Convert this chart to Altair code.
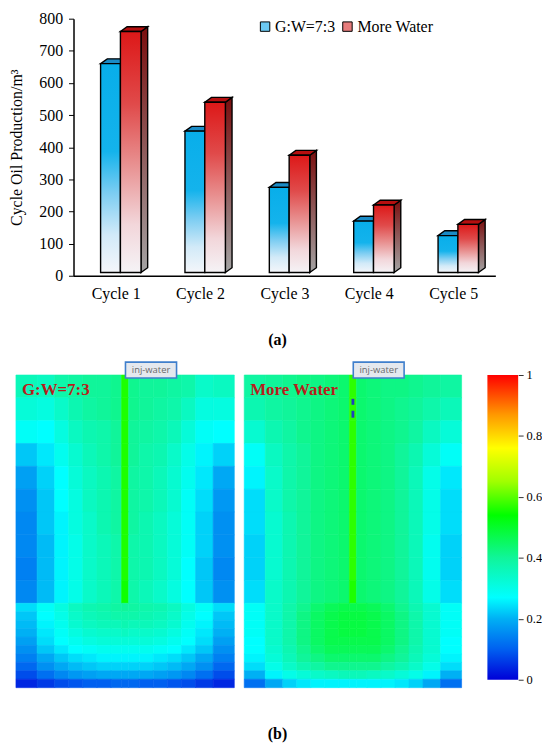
import altair as alt
import pandas as pd

# ---------------- data (a): cycle oil production ----------------
CYCLES = ["Cycle 1", "Cycle 2", "Cycle 3", "Cycle 4", "Cycle 5"]
SERIES = ["G:W=7:3", "More Water"]
GW73 = [660, 450, 275, 170, 125]
MORE_WATER = [760, 540, 375, 220, 160]
Y_TICKS = [0, 100, 200, 300, 400, 500, 600, 700, 800]

# ---------------- data (b): saturation fields ----------------
COL_WIDTHS = [3, 2.5, 2, 2, 2, 2, 1.5, 1, 1.5, 2, 2, 2, 2, 2.5, 3]
ROW_HEIGHTS = [2.3, 2.3, 2.3, 2.3, 2.3, 2.3, 2.3, 2.3, 2.3, 2.3,
               0.85, 0.85, 0.85, 0.85, 0.85, 0.85, 0.85, 0.85, 0.85, 0.85]

HEAT_GW73 = [
    [36, 35, 38, 39, 40, 40, 41, 56, 41, 40, 40, 39, 38, 34, 35],
    [32, 31, 34, 37, 39, 40, 41, 56, 41, 40, 39, 38, 35, 31, 31],
    [28, 27, 31, 35, 37, 38, 40, 56, 40, 39, 38, 36, 32, 28, 27],
    [22, 25, 29, 33, 36, 38, 40, 56, 40, 38, 37, 34, 30, 26, 23],
    [18, 23, 27, 32, 35, 37, 39, 56, 39, 38, 36, 33, 29, 25, 19],
    [16, 22, 27, 31, 35, 37, 39, 56, 39, 38, 36, 33, 28, 24, 17],
    [15, 22, 26, 31, 34, 37, 39, 56, 39, 37, 35, 32, 28, 23, 16],
    [15, 21, 26, 30, 34, 36, 38, 56, 38, 37, 35, 32, 28, 23, 16],
    [14, 21, 26, 30, 34, 36, 38, 56, 38, 37, 35, 32, 27, 22, 15],
    [15, 21, 26, 30, 34, 36, 38, 55, 38, 36, 34, 31, 27, 22, 16],
    [24, 28, 31, 35, 37, 38, 39, 40, 39, 38, 37, 35, 31, 28, 24],
    [22, 27, 30, 34, 36, 37, 38, 38, 38, 37, 36, 34, 30, 27, 22],
    [21, 26, 29, 33, 35, 36, 36, 37, 36, 36, 35, 33, 29, 26, 21],
    [20, 25, 28, 31, 33, 34, 34, 35, 34, 34, 33, 31, 28, 25, 20],
    [18, 24, 27, 29, 31, 32, 32, 32, 32, 32, 31, 29, 27, 24, 18],
    [16, 22, 25, 27, 28, 29, 29, 29, 29, 29, 28, 27, 25, 22, 16],
    [14, 19, 22, 24, 25, 26, 26, 26, 26, 26, 25, 24, 22, 19, 14],
    [11, 16, 19, 21, 22, 23, 23, 23, 23, 23, 22, 21, 19, 16, 11],
    [8, 12, 15, 17, 18, 19, 19, 19, 19, 19, 18, 17, 15, 12, 8],
    [4, 6, 8, 9, 10, 10, 11, 11, 11, 10, 10, 9, 8, 6, 4],
]

HEAT_MORE_WATER = [
    [39, 40, 41, 42, 42, 43, 44, 57, 44, 43, 42, 42, 41, 40, 39],
    [37, 39, 40, 41, 42, 43, 44, 57, 44, 43, 42, 41, 40, 38, 36],
    [33, 37, 39, 41, 42, 43, 44, 57, 44, 43, 42, 41, 39, 35, 32],
    [28, 35, 38, 40, 42, 43, 44, 57, 44, 43, 42, 40, 37, 32, 28],
    [26, 34, 38, 40, 42, 43, 44, 57, 44, 43, 42, 40, 36, 30, 25],
    [24, 34, 38, 40, 42, 43, 44, 57, 44, 43, 42, 40, 36, 30, 24],
    [24, 33, 37, 40, 42, 43, 44, 57, 44, 43, 42, 40, 36, 30, 24],
    [23, 33, 37, 40, 42, 43, 44, 57, 44, 43, 42, 40, 36, 29, 23],
    [23, 33, 37, 40, 42, 43, 44, 57, 44, 43, 42, 40, 36, 29, 23],
    [24, 34, 37, 40, 42, 43, 44, 56, 44, 43, 42, 40, 36, 30, 24],
    [28, 34, 38, 41, 44, 46, 47, 47, 47, 46, 44, 41, 37, 33, 28],
    [28, 34, 38, 42, 45, 47, 48, 48, 48, 47, 45, 42, 38, 33, 28],
    [28, 34, 38, 42, 45, 47, 48, 48, 48, 47, 45, 42, 38, 33, 28],
    [28, 34, 38, 42, 45, 47, 48, 48, 48, 47, 45, 42, 38, 33, 28],
    [27, 34, 38, 42, 45, 47, 47, 47, 47, 47, 45, 42, 38, 33, 27],
    [27, 33, 37, 41, 44, 46, 46, 46, 46, 46, 44, 41, 37, 33, 27],
    [26, 32, 36, 40, 42, 44, 44, 44, 44, 44, 42, 40, 36, 32, 26],
    [24, 30, 34, 37, 39, 41, 41, 41, 41, 41, 39, 37, 34, 30, 24],
    [20, 26, 30, 32, 34, 35, 36, 36, 36, 35, 34, 32, 30, 26, 20],
    [12, 19, 23, 25, 26, 26, 26, 26, 26, 26, 26, 25, 23, 19, 12],
]

# perforation dashes (More Water), in grid units
DASH_X = [(15.3, 15.7), (15.3, 15.7)]
DASH_Y = [(2.4, 3.0), (3.6, 4.3)]
INJ_LABEL = "inj-water"
PANEL_LABELS = ["G:W=7:3", "More Water"]

CB_STOPS = [0, 0.1, 0.2, 0.27, 0.4, 0.54, 0.65, 0.76, 0.87, 1]
CB_COLORS = ["#0000d8", "#0060f0", "#00b0f4", "#00ffff", "#10f59a",
             "#00ff00", "#a0ff00", "#ffff00", "#ff9800", "#ff0000"]
CB_TICKS = [0, 0.2, 0.4, 0.6, 0.8, 1]

SERIF = "'Times New Roman', 'Liberation Serif', serif"

# ---------------- (a) 3-D style bar chart ----------------
BLUE_X = (0.321, 0.556)
RED_X = (0.556, 0.800)
DX, DY, BASE = 0.079, 15, 10
EDGE = 1.4


def grad(stops):
    return alt.LinearGradient(
        gradient="linear", x1=0, y1=0, x2=0, y2=1,
        stops=[alt.GradientStop(offset=o, color=c) for o, c in stops])


BLUE_FRONT = grad([(0, "#08aeea"), (0.42, "#14b3ec"), (0.62, "#7ccdf2"),
                   (0.82, "#d2eaf8"), (1, "#f4f6fa")])
RED_FRONT = grad([(0, "#dd1818"), (0.3, "#e04a4a"), (0.55, "#e89090"),
                  (0.8, "#f2d6da"), (1, "#f5f3f6")])
RED_SIDE = grad([(0, "#7a0e0e"), (0.5, "#8e5a5a"), (1, "#a3a3a3")])

front_rows, side_rows, top_rows = [], [], []
for i, cyc in enumerate(CYCLES):
    for s, vals, (x0, x1) in [(SERIES[0], GW73, BLUE_X), (SERIES[1], MORE_WATER, RED_X)]:
        v = vals[i]
        front_rows.append(dict(series=s, cycle=cyc, x0=i + x0, x1=i + x1, y0=BASE, y1=v))
        key = f"{s}-{i}"
        for xx, lo, hi in [(i + x0, v, v), (i + x0 + DX, v, v + DY),
                           (i + x1, v, v + DY), (i + x1 + DX, v + DY, v + DY)]:
            top_rows.append(dict(series=s, id=key, x=xx, lo=lo, hi=hi))
        for xx, lo, hi in [(i + x1, BASE, v), (i + x1 + DX, BASE + DY, v + DY)]:
            side_rows.append(dict(series=s, id=key, x=xx, lo=lo, hi=hi))

front_df = pd.DataFrame(front_rows)
top_df = pd.DataFrame(top_rows)
side_df = pd.DataFrame(side_rows)

XS = alt.Scale(domain=[0, 5], nice=False, zero=False)
YS = alt.Scale(domain=[0, 800], nice=False)
XAX = alt.Axis(values=[0.5, 1.5, 2.5, 3.5, 4.5],
               labelExpr="'Cycle ' + (datum.value + 0.5)", ticks=False, grid=False,
               domainColor="black", domainWidth=1.5, labelFont=SERIF, labelFontSize=16,
               labelColor="black", labelPadding=10,
               title="(a)", titleFont=SERIF, titleFontSize=16, titleFontWeight="bold",
               titleColor="black", titlePadding=30, titleX=205)
YAX = alt.Axis(values=Y_TICKS, grid=False, domainColor="black", domainWidth=1.5,
               tickColor="black", tickSize=5, labelFont=SERIF, labelFontSize=16,
               labelColor="black", labelPadding=6, title="Cycle Oil Production/m³",
               titleFont=SERIF, titleFontSize=16, titleFontWeight="normal",
               titleColor="black", titlePadding=14)


def face_area(series, fill, df):
    return alt.Chart(df).transform_filter(alt.datum.series == series).mark_area(
        orient="vertical", fill=fill, stroke="black", strokeWidth=EDGE, strokeJoin="miter"
    ).encode(x=alt.X("x:Q", scale=XS, axis=XAX),
             y=alt.Y("lo:Q", scale=YS, axis=YAX, stack=None), y2="hi:Q",
             detail="id:N")


def front(series, fill):
    return alt.Chart(front_df).transform_filter(alt.datum.series == series).mark_rect(
        fill=fill, stroke="black", strokeWidth=EDGE
    ).encode(x=alt.X("x0:Q", scale=XS, axis=XAX), x2="x1:Q",
             y=alt.Y("y0:Q", scale=YS, axis=YAX), y2="y1:Q")


blue_top = face_area(SERIES[0], "#1a8bc6", top_df)
blue_front = front(SERIES[0], BLUE_FRONT)
red_side = face_area(SERIES[1], RED_SIDE, side_df)
red_top = face_area(SERIES[1], "#b50f0f", top_df)
red_front = front(SERIES[1], RED_FRONT)

legend_ghost = alt.Chart(front_df).mark_square(size=0, opacity=1).encode(
    x=alt.X("x0:Q", scale=XS, axis=XAX),
    y=alt.Y("y1:Q", scale=YS, axis=YAX),
    color=alt.Color("series:N", scale=alt.Scale(domain=SERIES, range=["#6cc9f2", "#e77c7c"]),
                    legend=alt.Legend(orient="none", legendX=185, legendY=0,
                                      direction="horizontal", title=None,
                                      symbolType="square", symbolSize=90,
                                      symbolStrokeColor="black", symbolStrokeWidth=1,
                                      labelFont=SERIF, labelFontSize=16,
                                      labelColor="black", labelOffset=2,
                                      columnPadding=4, padding=0)))

top = alt.layer(blue_top, blue_front, red_side, red_top, red_front, legend_ghost).properties(
    width=425, height=259)

# ---------------- (b) saturation panels ----------------
x_edges = [0.0]
for w in COL_WIDTHS:
    x_edges.append(x_edges[-1] + w)
y_edges = [0.0]
for h in ROW_HEIGHTS:
    y_edges.append(y_edges[-1] + h)

PXU = 220 / x_edges[-1]          # pixels per grid unit
LEFT_W = 162                     # left panel plot width (grid extends left of origin)
LEFT_START = x_edges[-1] - LEFT_W / PXU

COLOR_SCALE = alt.Scale(domain=CB_STOPS, range=CB_COLORS, interpolate="rgb")
Y_HEAT = alt.Scale(domain=[-1.6, y_edges[-1]], reverse=True, nice=False, zero=False)


def heat_panel(matrix, label, xdomain, width, dashes, xaxis):
    rows = []
    for r, row in enumerate(matrix):
        for c, v in enumerate(row):
            rows.append(dict(x0=x_edges[c], x1=x_edges[c + 1], y0=y_edges[r],
                             y1=y_edges[r + 1], v=v / 100))
    xs = alt.Scale(domain=xdomain, nice=False, zero=False)
    X = lambda f: alt.X(f, scale=xs, axis=xaxis)
    Y = lambda f: alt.Y(f, scale=Y_HEAT, axis=None)
    cells = alt.Chart(pd.DataFrame(rows)).mark_rect(strokeWidth=0.6).encode(
        x=X("x0:Q"), x2="x1:Q", y=Y("y0:Q"), y2="y1:Q",
        fill=alt.Fill("v:Q", scale=COLOR_SCALE, legend=None),
        stroke=alt.Stroke("v:Q", scale=COLOR_SCALE, legend=None))
    box_df = pd.DataFrame([dict(x0=15.55, x1=22.8, y0=-1.3, y1=0.3, xm=19.18, ym=-0.5,
                                t=INJ_LABEL)])
    box = alt.Chart(box_df).mark_rect(fill="#e4e8ee", stroke="#3f7fcc", strokeWidth=1.6).encode(
        x=X("x0:Q"), x2="x1:Q", y=Y("y0:Q"), y2="y1:Q")
    box_text = alt.Chart(box_df).mark_text(font="Open Sans", fontSize=9.5, color="#6a6a6a",
                                           baseline="middle").encode(
        x=X("xm:Q"), y=Y("ym:Q"), text="t:N")
    lab_df = pd.DataFrame([dict(x=0.85, y=2.0, t=label)])
    lab = alt.Chart(lab_df).mark_text(align="left", baseline="alphabetic", font=SERIF,
                                      fontSize=17, fontWeight="bold", color="#b81c1c").encode(
        x=X("x:Q"), y=Y("y:Q"), text="t:N")
    layers = [cells]
    if dashes:
        d_df = pd.DataFrame([dict(x0=a[0], x1=a[1], y0=b[0], y1=b[1])
                             for a, b in zip(DASH_X, DASH_Y)])
        layers.append(alt.Chart(d_df).mark_rect(fill="#1f3fbf").encode(
            x=X("x0:Q"), x2="x1:Q", y=Y("y0:Q"), y2="y1:Q"))
    layers += [box, box_text, lab]
    return alt.layer(*layers).properties(width=width, height=331)


B_AXIS = alt.Axis(domain=False, ticks=False, labels=False, grid=False, title="(b)",
                  titleFont=SERIF, titleFontSize=16, titleFontWeight="bold",
                  titleColor="black", titlePadding=38, titleX=33)

left = heat_panel(HEAT_GW73, PANEL_LABELS[0], [LEFT_START, x_edges[-1]], LEFT_W, False, None)
right = heat_panel(HEAT_MORE_WATER, PANEL_LABELS[1], [0, x_edges[-1]], 219, True, B_AXIS)

CB_GRAD = alt.LinearGradient(
    gradient="linear", x1=0, y1=1, x2=0, y2=0,
    stops=[alt.GradientStop(offset=o, color=c) for o, c in zip(CB_STOPS, CB_COLORS)])
cb_df = pd.DataFrame([dict(x0=0, x1=1, lo=CB_TICKS[0], hi=CB_TICKS[-1])])
colorbar = alt.Chart(cb_df).mark_rect(fill=CB_GRAD).encode(
    x=alt.X("x0:Q", scale=alt.Scale(domain=[-0.548, 1], nice=False, zero=False), axis=None),
    x2="x1:Q",
    y=alt.Y("lo:Q", scale=alt.Scale(domain=[-0.026, 1.052], nice=False, zero=False),
            axis=alt.Axis(orient="right", values=CB_TICKS, format="~g", domain=False,
                          tickColor="#333333", tickSize=5, grid=False, labelFont=SERIF,
                          labelFontSize=12.5, labelColor="black", labelPadding=3,
                          title=None)),
    y2="hi:Q").properties(width=48, height=331)

bottom = alt.hconcat(left, right, colorbar, spacing=8)

chart = alt.vconcat(top, bottom, spacing=12).properties(
    padding={"left": 1, "top": 0, "right": 0, "bottom": 0}
).configure_view(strokeWidth=0)

chart.save("out.html", embed_options={"renderer": "svg", "actions": False})
